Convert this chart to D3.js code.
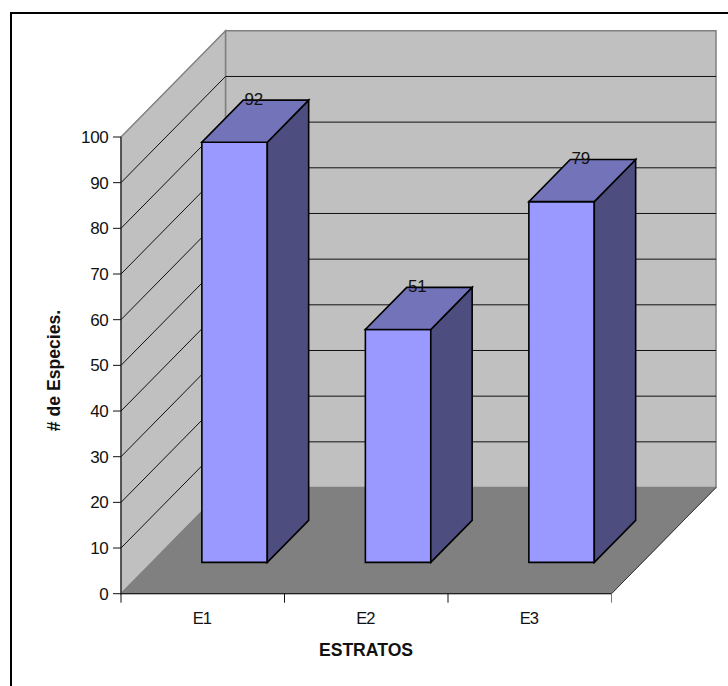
<!DOCTYPE html>
<html><head><meta charset="utf-8">
<script src="https://cdn.jsdelivr.net/npm/d3@7"></script>
<style>html,body{margin:0;padding:0;background:#fff}svg{display:block}text{font-family:"Liberation Sans",Arial,sans-serif;fill:#111}</style>
</head><body><svg id="c" width="728" height="686"></svg>
<script>
const categories = ["E1","E2","E3"];
const values = [92,51,79];
const yTicks = d3.range(0,101,10);
const yTitle = "# de Especies.";
const xTitle = "ESTRATOS";

const svg = d3.select("#c");
const x = d3.scaleBand().domain(categories).range([121,611.5]);
const y = d3.scaleLinear().domain([0,100]).range([593.7,137]);
const dX = 104.5, dY = 106.2;
const barW = 65.4, barD0 = 0.295, barD1 = 0.691;
const P = (px,py,d) => [px + dX*d, py - dY*d];
const poly = (pts,fill,stroke,sw) => svg.append("polygon")
  .attr("points",pts.map(p=>p.join(",")).join(" "))
  .attr("fill",fill).attr("stroke",stroke||"none").attr("stroke-width",sw||0).attr("stroke-linejoin","miter");
const [xL,xR] = x.range(), y0=y(0), y1=y(100);

// frame: only the top and left edges fall inside the picture
svg.append("path").attr("d","M11,686V13H728").attr("fill","none").attr("stroke","#000").attr("stroke-width",2);

// walls and floor
poly([P(xL,y0,1),P(xR,y0,1),P(xR,y1,1),P(xL,y1,1)],"#c0c0c0","#808080",1.5);
poly([P(xL,y0,0),P(xL,y0,1),P(xL,y1,1),P(xL,y1,0)],"#c0c0c0","#808080",1.5);
poly([P(xL,y0,0),P(xR,y0,0),P(xR,y0,1),P(xL,y0,1)],"#808080","#808080",1);

// gridlines
yTicks.filter(t=>t>0&&t<100).forEach(t=>{
  const a=P(xL,y(t),0), b=P(xL,y(t),1), c=P(xR,y(t),1);
  svg.append("polyline").attr("points",[a,b,c].map(p=>p.join(",")).join(" "))
    .attr("fill","none").attr("stroke","#111").attr("stroke-width",1);
});

// axes
const axisCol="#111";
svg.append("line").attr("x1",xL).attr("x2",xL).attr("y1",y1).attr("y2",y0).attr("stroke",axisCol);
svg.append("line").attr("x1",xL).attr("x2",xR).attr("y1",y0).attr("y2",y0).attr("stroke","#222").attr("stroke-width",1.2);
svg.append("line").attr("x1",xR).attr("x2",P(xR,y0,1)[0]).attr("y1",y0).attr("y2",P(xR,y0,1)[1]).attr("stroke","#333");
yTicks.forEach(t=>{
  svg.append("line").attr("x1",xL-8).attr("x2",xL).attr("y1",y(t)).attr("y2",y(t)).attr("stroke",axisCol);
  svg.append("text").attr("x",xL-12.5).attr("y",y(t)+6).attr("text-anchor","end").attr("font-size",17).attr("letter-spacing",-0.3).text(t);
});
[...categories.map(c=>x(c)),xR].forEach(v=>{
  svg.append("line").attr("x1",v).attr("x2",v).attr("y1",y0).attr("y2",y0+9).attr("stroke",v===xR?"#777":axisCol);
});
categories.forEach(c=>{
  svg.append("text").attr("x",x(c)+x.bandwidth()/2-1).attr("y",624).attr("text-anchor","middle").attr("font-size",16.5).attr("letter-spacing",-1).text(c);
});
svg.append("text").attr("x",366).attr("y",656).attr("text-anchor","middle").attr("font-size",17.6).attr("font-weight","bold").text(xTitle);
svg.append("text").attr("transform","translate(59.5,370.5) rotate(-90)").attr("text-anchor","middle").attr("font-size",17.6).attr("font-weight","bold").text(yTitle);

// bars
categories.forEach((c,i)=>{
  const cx=x(c)+x.bandwidth()/2+1, l=cx-barW/2, r=cx+barW/2;
  const top=y(values[i]);
  const front=[P(l,y0,barD0),P(r,y0,barD0),P(r,top,barD0),P(l,top,barD0)];
  poly(front,"#9999ff","#000",1.6);
  poly([P(r,y0,barD0),P(r,y0,barD1),P(r,top,barD1),P(r,top,barD0)],"#4d4d80","#000",1.6);
  poly([P(l,top,barD0),P(r,top,barD0),P(r,top,barD1),P(l,top,barD1)],"#7373ba","#000",1.6);
  svg.append("text").attr("x",P(cx,top,(barD0+barD1)/2)[0]-1.5).attr("y",P(cx,top,barD1)[1]+4.5)
    .attr("text-anchor","middle").attr("font-size",17).attr("letter-spacing",-0.3).text(values[i]);
});
</script></body></html>
